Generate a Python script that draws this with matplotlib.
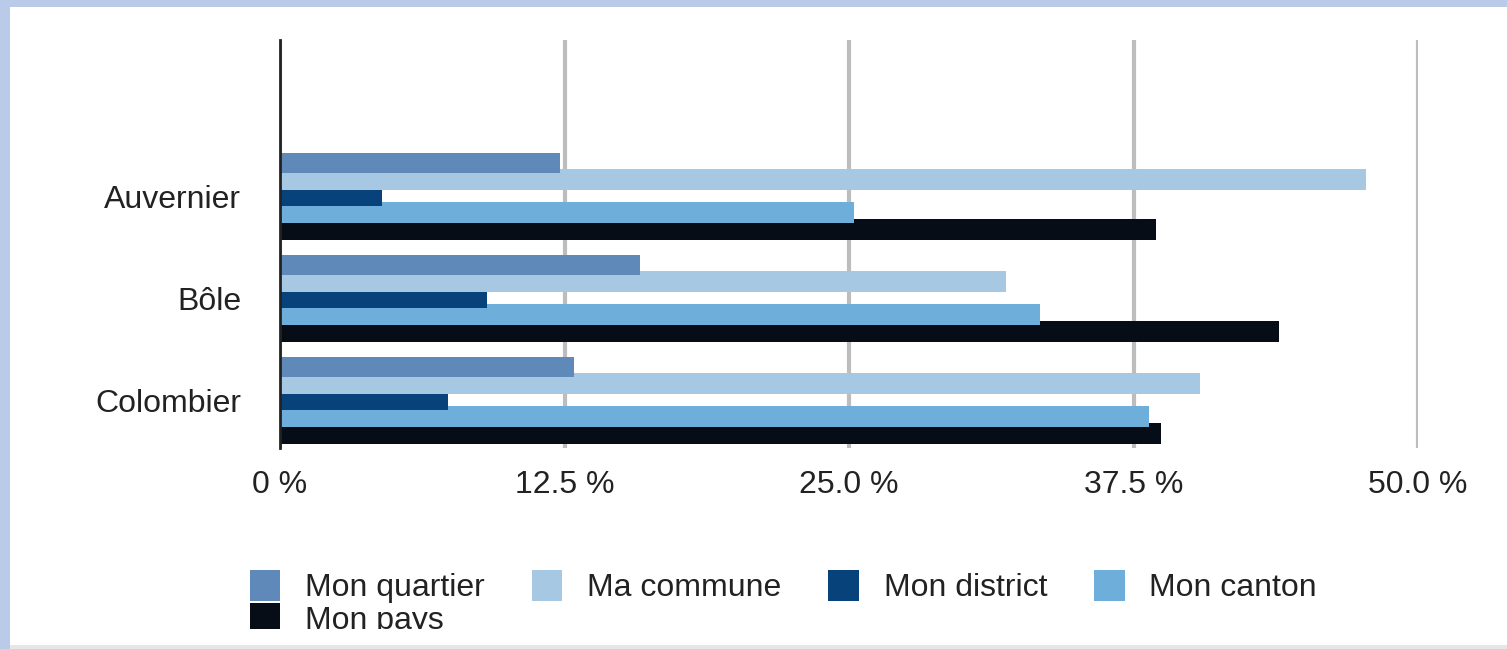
import matplotlib.pyplot as plt
import matplotlib.patches as mpatches
import numpy as np

plt.rcParams['font.family'] = ['Liberation Sans', 'DejaVu Sans']

# Données (en %)
communes = ["Auvernier", "Bôle", "Colombier"]
series = ["Mon quartier", "Ma commune", "Mon district", "Mon canton", "Mon pays"]
quartier = [12.3, 15.8, 12.9]
commune = [47.7, 31.9, 40.4]
district = [4.5, 9.1, 7.4]
canton = [25.2, 33.4, 38.2]
pays = [38.5, 43.9, 38.7]
couleurs = ["#5f89b8", "#a6c8e3", "#07427b", "#6eaedb", "#060d17"]
xticks = [0, 12.5, 25, 37.5, 50]
xlabels = ["0 %", "12.5 %", "25.0 %", "37.5 %", "50.0 %"]

valeurs = [quartier, commune, district, canton, pays]

W, H = 1507, 649
fig = plt.figure(figsize=(W / 100, H / 100), dpi=100)
fig.patch.set_facecolor("#b9cbe9")

# panneau blanc
fig.patches.append(mpatches.Rectangle((10 / W, 4 / H), 1 - 10 / W, (H - 11) / H,
                                      transform=fig.transFigure, facecolor="white",
                                      edgecolor="none", zorder=-2))
fig.patches.append(mpatches.Rectangle((10 / W, 0), 1 - 10 / W, 4 / H,
                                      transform=fig.transFigure, facecolor="#e6e6e6",
                                      edgecolor="none", zorder=-2))

ax = fig.add_axes([280 / W, 1 - 448 / H, 1138 / W, 408 / H])
ax.set_facecolor("none")

y = np.arange(len(communes))[::-1]  # Auvernier en haut
pas = 0.163
hauteur = 0.2

# dessiner dans l'ordre inverse pour que les premières séries soient au-dessus
for i in reversed(range(len(series))):
    decalage = (i - 2) * pas
    ax.barh(y - decalage, valeurs[i], height=hauteur, color=couleurs[i],
            label=series[i], zorder=3 + (len(series) - i))

ax.set_xlim(0, 50)
ax.set_ylim(-0.47, 3.53)
ax.set_xticks(xticks)
ax.set_xticklabels(xlabels)
ax.set_yticks(y)
ax.set_yticklabels(communes)
ax.tick_params(axis="both", length=0, labelsize=23, labelcolor="#222222")
ax.tick_params(axis="x", pad=16)
ax.tick_params(axis="y", pad=28)

ax.grid(axis="x", color="#bdbdbd", linewidth=3, zorder=1)
ax.set_axisbelow(True)
for s in ["top", "right", "bottom"]:
    ax.spines[s].set_visible(False)
ax.spines["left"].set_color("#222222")
ax.spines["left"].set_linewidth(2)
ax.spines["left"].set_zorder(10)

# légende : 1re colonne = quartier + pays
handles, labels = ax.get_legend_handles_labels()
ordre = {lab: h for h, lab in zip(handles, labels)}
ordre_leg = ["Mon quartier", "Mon pays", "Ma commune", "Mon district", "Mon canton"]
leg = fig.legend([ordre[l] for l in ordre_leg], ordre_leg, ncol=4, frameon=False,
                 loc="upper left", bbox_to_anchor=(250 / W, 1 - 570 / H),
                 fontsize=23, handlelength=0.95, handleheight=1.1,
                 handletextpad=0.78, columnspacing=1.47, labelspacing=0.0,
                 borderpad=0, borderaxespad=0)
for t in leg.get_texts():
    t.set_color("#222222")

# bas du panneau coupé comme dans l'original
fig.patches.append(mpatches.Rectangle((10 / W, 4 / H), 1 - 10 / W, 16 / H,
                                      transform=fig.transFigure, facecolor="white",
                                      edgecolor="none", zorder=8))

fig.savefig("out.png", dpi=100, facecolor=fig.get_facecolor())
